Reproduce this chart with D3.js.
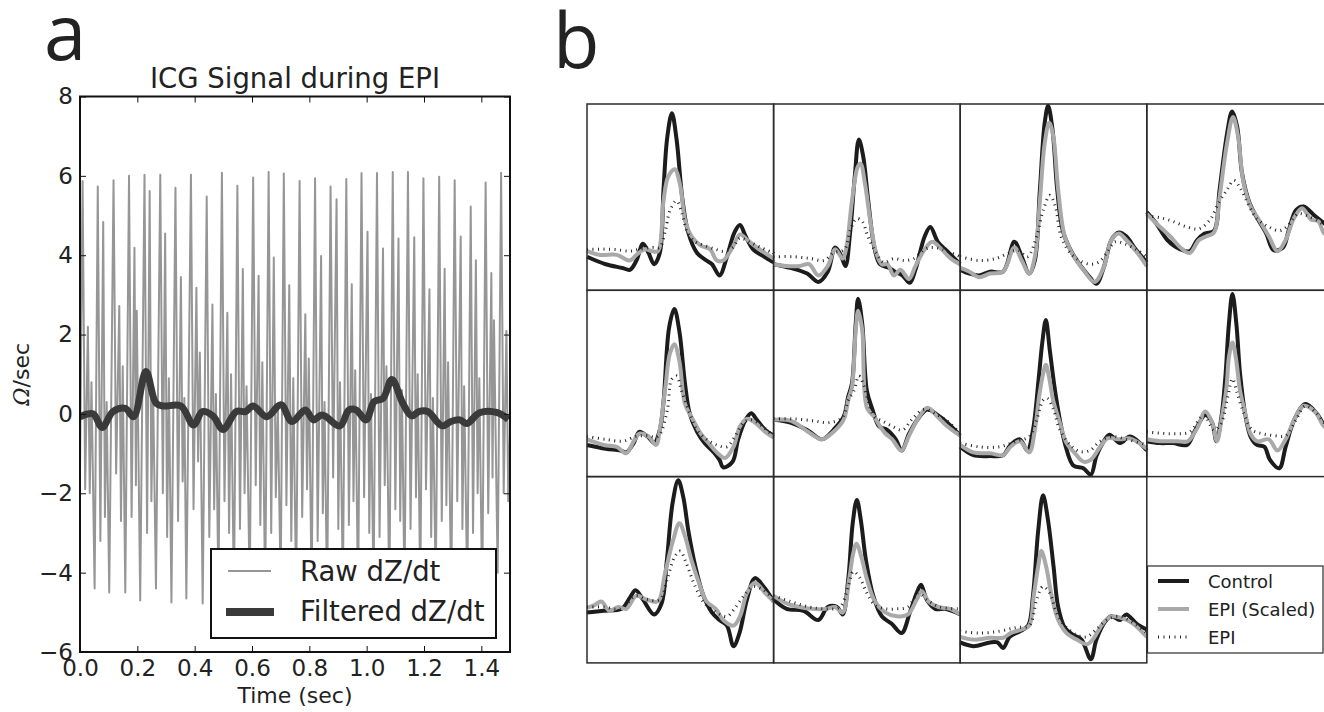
<!DOCTYPE html>
<html>
<head>
<meta charset="utf-8">
<script src="https://cdn.jsdelivr.net/npm/d3@7"></script>
<style>
  body { margin: 0; background: #fff; }
  svg { display: block; font-family: "DejaVu Sans", sans-serif; }
</style>
</head>
<body>
<div id="chart"></div>
<script>
// ---- panel a data: time (s), value (Ohm/sec) ----
const xTicksA = [0, 0.2, 0.4, 0.6, 0.8, 1.0, 1.2, 1.4];
const yTicksA = [-6, -4, -2, 0, 2, 4, 6, 8];
const legendA = ["Raw dZ/dt", "Filtered dZ/dt"];

const rawSignal = [
  [0.000,-1.5],
  [0.009,5.87],[0.018,-1.9],[0.0275,2.2],[0.034,-2.0],[0.040,0.8],[0.051,-4.4],
  [0.062,5.73],[0.071,-3.2],[0.081,4.84],[0.087,-2.6],[0.093,0.3],[0.102,-4.5],
  [0.117,5.89],[0.126,-1.5],[0.137,2.72],[0.143,-2.7],[0.149,1.2],[0.158,-4.5],
  [0.171,6.00],[0.180,-2.6],[0.190,4.19],[0.195,-1.8],[0.198,2.6],[0.210,-4.7],
  [0.225,6.03],[0.234,-3.0],[0.243,5.62],[0.249,-2.2],[0.255,0.6],[0.265,-4.4],
  [0.280,6.03],[0.289,-2.0],[0.297,4.55],[0.304,-3.1],[0.310,0.9],[0.319,-4.75],
  [0.333,5.70],[0.342,-2.7],[0.352,3.45],[0.358,-1.7],[0.364,0.4],[0.371,-4.65],
  [0.387,6.03],[0.396,-2.4],[0.406,3.18],[0.412,-1.2],[0.418,1.55],[0.428,-4.78],
  [0.442,5.48],[0.451,-3.1],[0.462,2.76],[0.468,-2.4],[0.474,0.5],[0.483,-4.5],
  [0.495,6.08],[0.504,-2.2],[0.514,2.55],[0.520,-3.0],[0.527,1.0],[0.537,-4.6],
  [0.549,5.75],[0.558,-2.9],[0.568,3.65],[0.574,-2.0],[0.581,0.7],[0.592,-4.5],
  [0.604,5.96],[0.613,-1.8],[0.623,3.48],[0.629,-2.8],[0.636,1.3],[0.646,-4.6],
  [0.658,6.10],[0.667,-3.0],[0.676,3.94],[0.683,-2.1],[0.690,0.2],[0.700,-4.4],
  [0.711,6.06],[0.720,-2.3],[0.730,3.24],[0.737,-3.2],[0.744,0.9],[0.754,-4.6],
  [0.766,5.87],[0.775,-2.6],[0.786,2.51],[0.792,-1.9],[0.798,1.4],[0.808,-4.5],
  [0.820,5.94],[0.829,-3.2],[0.841,3.98],[0.847,-2.5],[0.853,0.3],[0.862,-4.7],
  [0.874,5.73],[0.883,-1.6],[0.895,5.41],[0.901,-2.9],[0.907,0.8],[0.917,-4.4],
  [0.929,5.92],[0.938,-2.8],[0.948,3.27],[0.954,-2.2],[0.960,1.1],[0.970,-4.6],
  [0.982,6.07],[0.991,-2.1],[1.003,4.59],[1.009,-3.0],[1.015,0.5],[1.024,-4.5],
  [1.036,6.07],[1.045,-3.1],[1.057,4.17],[1.063,-1.8],[1.069,1.2],[1.079,-4.7],
  [1.091,6.10],[1.100,-2.4],[1.111,4.42],[1.117,-2.7],[1.123,0.6],[1.132,-4.5],
  [1.144,6.10],[1.153,-2.9],[1.166,4.45],[1.172,-2.1],[1.178,1.0],[1.187,-4.6],
  [1.198,5.94],[1.207,-1.9],[1.219,3.14],[1.225,-3.1],[1.231,0.4],[1.241,-4.4],
  [1.253,5.98],[1.262,-2.7],[1.272,3.66],[1.278,-2.3],[1.284,1.3],[1.295,-4.7],
  [1.307,5.89],[1.316,-2.2],[1.328,4.47],[1.334,-2.9],[1.340,0.7],[1.351,-4.5],
  [1.363,5.23],[1.371,-3.0],[1.381,3.87],[1.387,-2.0],[1.393,0.9],[1.403,-4.6],
  [1.415,5.83],[1.424,-2.5],[1.435,3.55],[1.439,-1.6],[1.444,2.36],[1.457,-4.0],
  [1.469,6.08],[1.478,-2.0],[1.4875,2.09],[1.494,-2.2],[1.500,-0.5]
];

const filteredSignal = [
  [0,-0.07],[0.046,0.0],[0.077,-0.34],[0.115,0.06],[0.158,0.14],[0.187,-0.07],
  [0.230,1.07],[0.265,0.27],[0.290,0.20],[0.352,0.20],[0.396,-0.28],[0.427,0.06],
  [0.464,-0.05],[0.499,-0.39],[0.545,0.06],[0.577,0.06],[0.604,0.20],[0.651,-0.07],
  [0.701,0.23],[0.739,-0.19],[0.786,0.10],[0.814,-0.15],[0.845,-0.03],[0.907,-0.30],
  [0.938,0.10],[0.963,0.10],[0.998,-0.15],[1.026,0.31],[1.057,0.39],[1.088,0.87],
  [1.126,0.27],[1.157,-0.05],[1.182,0.06],[1.213,0.06],[1.263,-0.30],[1.294,-0.19],
  [1.325,-0.15],[1.350,-0.24],[1.394,0.03],[1.456,0.03],[1.494,-0.14]
];

// ---- panel b data: 11 beats, normalised [x, y] in each cell ----
const legendB = ["Control", "EPI (Scaled)", "EPI"];

const cellControl = [
  [[0,.18],[.10,.14],[.19,.12],[.23,.11],[.265,.16],[.30,.25],[.33,.20],[.36,.14],[.39,.20],[.41,.54],[.43,.82],[.455,.95],[.48,.81],[.51,.50],[.54,.32],[.59,.20],[.64,.16],[.67,.14],[.71,.08],[.75,.18],[.79,.31],[.82,.35],[.85,.29],[.89,.22],[.95,.18],[1,.15]],
  [[0,.14],[.09,.12],[.18,.09],[.24,.045],[.29,.10],[.33,.23],[.36,.19],[.385,.13],[.41,.31],[.435,.61],[.457,.81],[.48,.72],[.505,.50],[.54,.23],[.57,.14],[.62,.12],[.65,.10],[.69,.08],[.73,.04],[.76,.11],[.81,.29],[.84,.34],[.88,.26],[.92,.22],[.97,.17],[1,.14]],
  [[0,.11],[.05,.09],[.10,.08],[.16,.10],[.23,.10],[.29,.26],[.33,.18],[.37,.09],[.40,.16],[.427,.54],[.453,.90],[.471,.99],[.495,.86],[.52,.54],[.55,.32],[.60,.20],[.65,.125],[.695,.07],[.73,.035],[.77,.125],[.81,.27],[.85,.31],[.89,.29],[.94,.22],[1,.15]],
  [[0,.42],[.05,.36],[.11,.27],[.18,.22],[.23,.21],[.27,.27],[.31,.305],[.36,.32],[.39,.54],[.43,.84],[.457,.96],[.484,.88],[.51,.63],[.55,.47],[.59,.39],[.64,.305],[.68,.215],[.73,.23],[.76,.32],[.80,.43],[.84,.45],[.90,.40],[.95,.36],[1,.32]],
  [[0,.17],[.10,.15],[.18,.14],[.21,.13],[.25,.18],[.28,.24],[.33,.21],[.36,.18],[.39,.25],[.41,.40],[.44,.80],[.468,.90],[.495,.78],[.525,.50],[.55,.34],[.59,.24],[.63,.18],[.68,.13],[.71,.09],[.73,.05],[.78,.08],[.81,.20],[.85,.305],[.88,.34],[.91,.305],[.955,.25],[1,.22]],
  [[0,.305],[.09,.29],[.18,.25],[.26,.20],[.32,.25],[.375,.32],[.40,.43],[.42,.50],[.44,.82],[.453,.955],[.475,.82],[.50,.46],[.53,.36],[.565,.27],[.61,.25],[.655,.20],[.686,.14],[.726,.23],[.77,.305],[.824,.36],[.88,.33],[.93,.29],[1,.22]],
  [[0,.16],[.07,.115],[.16,.11],[.23,.115],[.27,.17],[.32,.20],[.36,.14],[.39,.25],[.42,.52],[.44,.72],[.459,.84],[.48,.68],[.507,.47],[.534,.305],[.566,.16],[.606,.06],[.66,.045],[.70,.01],[.73,.11],[.77,.19],[.80,.225],[.857,.18],[.91,.215],[1,.14]],
  [[0,.19],[.07,.18],[.14,.18],[.215,.17],[.26,.25],[.314,.33],[.35,.29],[.373,.19],[.40,.32],[.42,.52],[.44,.82],[.459,.98],[.48,.82],[.50,.55],[.53,.32],[.556,.215],[.59,.17],[.63,.16],[.66,.09],[.71,.045],[.744,.16],[.79,.305],[.85,.39],[.91,.34],[.95,.28],[1,.24]],
  [[0,.27],[.09,.28],[.185,.29],[.23,.35],[.26,.39],[.30,.34],[.36,.26],[.40,.32],[.427,.54],[.459,.86],[.489,.98],[.516,.89],[.543,.71],[.58,.52],[.624,.36],[.67,.27],[.71,.23],[.75,.20],[.785,.09],[.817,.16],[.857,.34],[.90,.455],[.946,.41],[1,.33]],
  [[0,.34],[.07,.29],[.16,.28],[.24,.23],[.29,.30],[.34,.30],[.37,.26],[.40,.45],[.424,.75],[.446,.875],[.467,.77],[.495,.55],[.534,.36],[.58,.25],[.633,.21],[.686,.16],[.73,.27],[.767,.375],[.79,.42],[.82,.34],[.866,.29],[.92,.29],[1,.26]],
  [[0,.11],[.07,.09],[.16,.11],[.20,.11],[.23,.08],[.265,.14],[.32,.17],[.364,.20],[.39,.36],[.418,.71],[.444,.90],[.47,.77],[.50,.52],[.525,.30],[.56,.19],[.606,.15],[.65,.125],[.70,.02],[.73,.125],[.776,.22],[.81,.25],[.857,.23],[.89,.26],[.946,.21],[1,.18]]
];

const cellScaled = [
  [[0,.21],[.07,.19],[.16,.19],[.23,.16],[.265,.19],[.31,.22],[.35,.21],[.38,.21],[.41,.48],[.435,.61],[.47,.65],[.50,.56],[.525,.38],[.56,.29],[.61,.24],[.66,.22],[.695,.16],[.73,.16],[.78,.23],[.82,.30],[.86,.27],[.91,.23],[.955,.20],[1,.17]],
  [[0,.14],[.07,.13],[.14,.13],[.19,.14],[.24,.08],[.29,.13],[.33,.22],[.37,.17],[.39,.23],[.42,.48],[.45,.66],[.466,.68],[.49,.57],[.52,.36],[.55,.20],[.58,.14],[.61,.14],[.645,.08],[.68,.11],[.725,.06],[.76,.13],[.81,.22],[.85,.26],[.90,.22],[.95,.17],[1,.14]],
  [[0,.12],[.05,.10],[.10,.07],[.16,.09],[.23,.10],[.29,.23],[.33,.16],[.37,.09],[.40,.18],[.427,.48],[.453,.79],[.477,.90],[.50,.82],[.525,.54],[.56,.29],[.61,.18],[.66,.11],[.72,.045],[.77,.125],[.81,.27],[.85,.305],[.89,.27],[.95,.20],[1,.13]],
  [[0,.41],[.05,.36],[.125,.29],[.18,.23],[.23,.20],[.28,.27],[.32,.29],[.36,.31],[.39,.50],[.43,.79],[.462,.93],[.49,.82],[.516,.59],[.556,.45],[.60,.38],[.654,.29],[.70,.21],[.744,.27],[.79,.39],[.833,.44],[.88,.38],[.92,.37],[.95,.305],[1,.28]],
  [[0,.20],[.09,.17],[.16,.16],[.21,.125],[.25,.19],[.28,.23],[.33,.215],[.37,.17],[.39,.25],[.42,.48],[.444,.66],[.468,.71],[.495,.62],[.525,.39],[.56,.32],[.61,.23],[.66,.17],[.70,.125],[.74,.10],[.785,.16],[.82,.27],[.857,.31],[.90,.29],[.955,.24],[1,.21]],
  [[0,.305],[.09,.30],[.20,.23],[.26,.20],[.32,.24],[.375,.305],[.40,.41],[.42,.48],[.44,.785],[.453,.89],[.475,.785],[.50,.37],[.54,.32],[.57,.27],[.60,.23],[.636,.20],[.685,.14],[.726,.22],[.77,.305],[.824,.37],[.88,.32],[.93,.27],[1,.22]],
  [[0,.17],[.07,.13],[.16,.125],[.23,.115],[.27,.16],[.32,.19],[.37,.13],[.40,.25],[.423,.43],[.444,.55],[.459,.60],[.477,.53],[.498,.41],[.534,.29],[.57,.18],[.615,.125],[.66,.08],[.70,.09],[.75,.16],[.79,.205],[.857,.20],[.91,.205],[1,.15]],
  [[0,.20],[.07,.19],[.16,.19],[.22,.19],[.27,.26],[.314,.35],[.35,.29],[.376,.19],[.40,.305],[.427,.48],[.44,.64],[.459,.72],[.477,.64],[.50,.46],[.523,.36],[.556,.23],[.59,.19],[.654,.20],[.70,.14],[.744,.20],[.79,.305],[.84,.38],[.90,.35],[.95,.27],[1,.24]],
  [[0,.295],[.04,.31],[.077,.33],[.12,.28],[.167,.30],[.21,.29],[.265,.36],[.32,.34],[.38,.33],[.418,.48],[.462,.66],[.495,.75],[.525,.68],[.56,.55],[.60,.43],[.64,.33],[.69,.29],[.73,.23],[.785,.20],[.82,.25],[.857,.375],[.90,.43],[.955,.375],[1,.33]],
  [[0,.36],[.07,.32],[.14,.30],[.21,.29],[.28,.29],[.33,.30],[.37,.27],[.405,.45],[.427,.59],[.444,.64],[.47,.57],[.50,.45],[.543,.33],[.60,.27],[.66,.25],[.72,.26],[.767,.34],[.794,.385],[.83,.33],[.884,.30],[.946,.29],[1,.26]],
  [[0,.14],[.07,.125],[.16,.135],[.23,.135],[.27,.16],[.33,.18],[.37,.20],[.394,.36],[.418,.52],[.435,.60],[.46,.52],[.49,.36],[.525,.23],[.57,.16],[.624,.125],[.68,.10],[.71,.125],[.767,.215],[.81,.25],[.866,.24],[.92,.215],[1,.14]]
];

const cellEpi = [
  [[0,.22],[.14,.22],[.23,.21],[.28,.22],[.35,.23],[.39,.23],[.42,.32],[.445,.43],[.48,.48],[.51,.41],[.535,.32],[.58,.26],[.63,.24],[.69,.22],[.73,.21],[.78,.23],[.82,.28],[.87,.26],[.93,.23],[1,.20]],
  [[0,.18],[.11,.18],[.20,.17],[.27,.16],[.32,.20],[.38,.22],[.41,.32],[.445,.385],[.475,.37],[.505,.29],[.55,.20],[.59,.15],[.645,.17],[.70,.16],[.75,.17],[.81,.22],[.85,.23],[.905,.22],[1,.18]],
  [[0,.18],[.10,.16],[.19,.17],[.26,.20],[.31,.215],[.36,.18],[.41,.29],[.445,.43],[.48,.51],[.51,.45],[.54,.29],[.59,.20],[.64,.16],[.695,.14],[.74,.15],[.785,.20],[.83,.26],[.88,.25],[.95,.215],[1,.18]],
  [[0,.40],[.07,.39],[.14,.37],[.215,.34],[.28,.33],[.34,.38],[.385,.47],[.43,.54],[.466,.59],[.50,.55],[.54,.47],[.59,.385],[.654,.34],[.71,.32],[.75,.34],[.81,.41],[.86,.40],[.92,.37],[.95,.35],[1,.33]],
  [[0,.215],[.10,.20],[.19,.19],[.26,.215],[.32,.22],[.38,.215],[.43,.355],[.453,.52],[.48,.54],[.507,.46],[.543,.36],[.59,.25],[.64,.20],[.695,.17],[.75,.16],[.79,.21],[.84,.29],[.88,.305],[.94,.27],[1,.215]],
  [[0,.31],[.10,.31],[.21,.30],[.30,.29],[.37,.32],[.40,.41],[.43,.46],[.457,.54],[.48,.50],[.50,.43],[.54,.32],[.58,.30],[.636,.27],[.69,.25],[.744,.31],[.806,.36],[.88,.33],[.93,.30],[1,.23]],
  [[0,.18],[.10,.16],[.21,.16],[.30,.19],[.37,.215],[.41,.305],[.444,.41],[.466,.42],[.50,.36],[.534,.25],[.59,.17],[.64,.135],[.695,.14],[.75,.19],[.81,.215],[.89,.20],[1,.17]],
  [[0,.24],[.14,.23],[.23,.24],[.305,.33],[.36,.25],[.40,.29],[.434,.43],[.459,.525],[.484,.45],[.52,.34],[.565,.25],[.62,.23],[.68,.22],[.744,.22],[.80,.305],[.85,.38],[.91,.34],[.95,.29],[1,.25]],
  [[0,.30],[.09,.30],[.18,.29],[.26,.36],[.32,.34],[.39,.34],[.43,.45],[.47,.57],[.50,.60],[.53,.54],[.58,.41],[.63,.32],[.695,.27],[.75,.25],[.79,.29],[.84,.36],[.89,.41],[.946,.39],[1,.34]],
  [[0,.36],[.09,.33],[.19,.30],[.28,.29],[.355,.30],[.40,.41],[.427,.49],[.46,.46],[.50,.375],[.543,.31],[.60,.29],[.66,.29],[.72,.30],[.776,.375],[.82,.34],[.89,.30],[1,.29]],
  [[0,.17],[.10,.16],[.21,.17],[.30,.19],[.37,.20],[.41,.34],[.444,.41],[.48,.375],[.516,.27],[.56,.20],[.624,.15],[.677,.14],[.73,.18],[.785,.23],[.85,.25],[.92,.22],[1,.16]]
];

// ---- svg ----
const svg = d3.select("#chart").append("svg")
  .attr("width", 1324).attr("height", 712)
  .style("background", "#fff");

// panel letters
svg.append("text").attr("x", 44).attr("y", 60)
  .style("font-family", "'Open Sans', sans-serif").style("font-size", "76px").attr("fill", "#222").text("a");
svg.append("text").attr("x", 553).attr("y", 68)
  .style("font-family", "'Open Sans', sans-serif").style("font-size", "76px").attr("fill", "#222").text("b");

// ===== PANEL A =====
const A = { left: 80, right: 510, top: 96.5, bottom: 652 };
const xA = d3.scaleLinear().domain([0, 1.5]).range([A.left, A.right]);
const yA = d3.scaleLinear().domain([-6, 8]).range([A.bottom, A.top]);

svg.append("clipPath").attr("id", "clipA")
  .append("rect").attr("x", A.left).attr("y", A.top)
  .attr("width", A.right - A.left).attr("height", A.bottom - A.top);

const plotA = svg.append("g").attr("clip-path", "url(#clipA)");

plotA.append("path").datum(rawSignal)
  .attr("d", d3.line().x(d => xA(d[0])).y(d => yA(d[1])))
  .attr("fill", "none").attr("stroke", "#969696").attr("stroke-width", 2)
  .attr("stroke-linejoin", "round");

plotA.append("path").datum(filteredSignal)
  .attr("d", d3.line().curve(d3.curveCatmullRom).x(d => xA(d[0])).y(d => yA(d[1])))
  .attr("fill", "none").attr("stroke", "#3a3a3a").attr("stroke-width", 7)
  .attr("stroke-linejoin", "round");

// axes (ticks point inward, on all four sides)
const styleAxis = g => {
  g.select(".domain").remove();
  g.selectAll(".tick line").attr("stroke", "#111").attr("stroke-width", 1);
  g.selectAll("text").attr("fill", "#222");
  g.attr("font-size", 23).attr("font-family", "DejaVu Sans, sans-serif");
};

svg.append("g").attr("transform", `translate(0,${A.bottom})`)
  .call(d3.axisBottom(xA).tickValues(xTicksA).tickFormat(d3.format(".1f"))
    .tickSizeInner(-6).tickSizeOuter(0).tickPadding(8))
  .call(styleAxis);
svg.append("g").attr("transform", `translate(0,${A.top})`)
  .call(d3.axisTop(xA).tickValues(xTicksA).tickFormat("")
    .tickSizeInner(-6).tickSizeOuter(0))
  .call(styleAxis);
svg.append("g").attr("transform", `translate(${A.left},0)`)
  .call(d3.axisLeft(yA).tickValues(yTicksA).tickFormat(d3.format("d"))
    .tickSizeInner(-6).tickSizeOuter(0).tickPadding(7))
  .call(styleAxis);
svg.append("g").attr("transform", `translate(${A.right},0)`)
  .call(d3.axisRight(yA).tickValues(yTicksA).tickFormat("")
    .tickSizeInner(-6).tickSizeOuter(0))
  .call(styleAxis);

// legend a
const legA = svg.append("g");
legA.append("rect").attr("x", 211).attr("y", 549).attr("width", 285).attr("height", 89)
  .attr("fill", "#fff").attr("stroke", "#111").attr("stroke-width", 2);
legA.append("line").attr("x1", 228).attr("x2", 271).attr("y1", 571).attr("y2", 571)
  .attr("stroke", "#969696").attr("stroke-width", 2);
legA.append("line").attr("x1", 226).attr("x2", 274).attr("y1", 612).attr("y2", 612)
  .attr("stroke", "#3a3a3a").attr("stroke-width", 8);
legA.selectAll("text.leg").data(legendA).enter().append("text")
  .attr("class", "leg").attr("x", 300).attr("y", (d, i) => 581 + i * 40)
  .style("font-size", "27.5px").attr("fill", "#222").text(d => d);

// frame
svg.append("rect").attr("x", A.left).attr("y", A.top)
  .attr("width", A.right - A.left).attr("height", A.bottom - A.top)
  .attr("fill", "none").attr("stroke", "#111").attr("stroke-width", 2);

// titles / labels
svg.append("text").attr("x", (A.left + A.right) / 2).attr("y", 88)
  .attr("text-anchor", "middle").style("font-size", "27.5px").attr("fill", "#222")
  .text("ICG Signal during EPI");
svg.append("text").attr("x", (A.left + A.right) / 2).attr("y", 703)
  .attr("text-anchor", "middle").style("font-size", "22px").attr("fill", "#222")
  .text("Time (sec)");
const yLab = svg.append("text")
  .attr("transform", `translate(29,${(A.top + A.bottom) / 2}) rotate(-90)`)
  .attr("text-anchor", "middle").style("font-size", "22px").attr("fill", "#222");
yLab.append("tspan").style("font-family", "'DejaVu Serif', serif").style("font-style", "italic").text("Ω");
yLab.append("tspan").text("/sec");

// ===== PANEL B =====
const B = { left: 587, top: 104, w: 186.6, h: 186.3, cols: 4 };
const colorControl = "#1c1c1c", colorScaled = "#a9a9a9", colorEpi = "#222";

cellControl.forEach((ctrl, i) => {
  const r = Math.floor(i / B.cols), c = i % B.cols;
  const x0 = B.left + c * B.w, y0 = B.top + r * B.h;
  const xs = d3.scaleLinear().domain([0, 1]).range([x0, x0 + B.w]);
  const ys = d3.scaleLinear().domain([0, 1]).range([y0 + B.h, y0]);
  const line = d3.line().curve(d3.curveCatmullRom).x(d => xs(d[0])).y(d => ys(d[1]));
  const g = svg.append("g");

  g.append("path").datum(ctrl).attr("d", line)
    .attr("fill", "none").attr("stroke", colorControl).attr("stroke-width", 4)
    .attr("stroke-linejoin", "round");
  g.append("path").datum(cellScaled[i]).attr("d", line)
    .attr("fill", "none").attr("stroke", colorScaled).attr("stroke-width", 4)
    .attr("stroke-linejoin", "round");
  g.append("path").datum(cellEpi[i]).attr("d", line)
    .attr("fill", "none").attr("stroke", colorEpi).attr("stroke-width", 3)
    .attr("stroke-dasharray", "1,4.5");

  g.append("rect").attr("x", x0).attr("y", y0).attr("width", B.w).attr("height", B.h)
    .attr("fill", "none").attr("stroke", "#2b2b2b").attr("stroke-width", 1.5);
});

// legend b
const legB = svg.append("g");
legB.append("rect").attr("x", 1147.5).attr("y", 566).attr("width", 175.5).attr("height", 87)
  .attr("fill", "#fff").attr("stroke", "#2b2b2b").attr("stroke-width", 1.2);
const legStyles = [
  { stroke: colorControl, width: 4, dash: null },
  { stroke: colorScaled, width: 4, dash: null },
  { stroke: colorEpi, width: 3, dash: "1,4.5" }
];
legendB.forEach((name, i) => {
  const y = 581 + i * 28;
  legB.append("line").attr("x1", 1158).attr("x2", 1189).attr("y1", y).attr("y2", y)
    .attr("stroke", legStyles[i].stroke).attr("stroke-width", legStyles[i].width)
    .attr("stroke-dasharray", legStyles[i].dash);
  legB.append("text").attr("x", 1208).attr("y", y + 6.5)
    .style("font-size", "18px").attr("fill", "#222").text(name);
});
</script>
</body>
</html>
